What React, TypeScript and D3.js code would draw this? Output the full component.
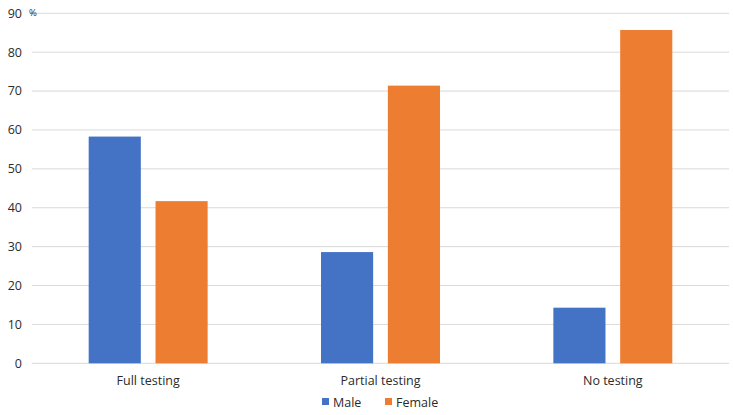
import React from 'react';
import * as d3 from 'd3';

const categories = ['Full testing', 'Partial testing', 'No testing'];
const seriesNames = ['Male', 'Female'];
const maleValues = [58.3, 28.6, 14.3];
const femaleValues = [41.7, 71.4, 85.7];
const yTicks = [0, 10, 20, 30, 40, 50, 60, 70, 80, 90];

const colors: Record<string, string> = { Male: '#4472C4', Female: '#ED7D31' };
const font = "'Open Sans', 'Liberation Sans', sans-serif";
const textColor = '#2b2b2b';

const W = 733;
const H = 415;
const left = 32;
const right = 729;
const top = 13.3;
const bottom = 363.3;

export default function App() {
  const rows = categories.map((c, i) => ({ cat: c, Male: maleValues[i], Female: femaleValues[i] }));

  const x0 = d3.scaleBand<string>().domain(categories).range([left, right]).paddingInner(0.488).paddingOuter(0.244);
  const x1 = d3.scaleBand<string>().domain(seriesNames).range([0, x0.bandwidth()]).paddingInner(0.22);
  const y = d3.scaleLinear().domain([0, 90]).range([bottom, top]);

  return (
    <svg width={W} height={H} style={{ position: 'absolute', left: 0, top: 0, background: '#fff' }}>
      {yTicks.map(t => (
        <g key={t}>
          <line x1={left} x2={right} y1={y(t)} y2={y(t)} stroke="#d9d9d9" strokeWidth={1} />
          <text x={22} y={y(t)} dy="0.35em" textAnchor="end" fontFamily={font} fontSize={12.5} fill={textColor}>
            {t}
          </text>
        </g>
      ))}
      <text x={29} y={y(90)} dy="0.3em" fontFamily={font} fontSize={9.5} fill={textColor}>%</text>

      {rows.map(r => (
        <g key={r.cat} transform={`translate(${x0(r.cat)},0)`}>
          {seriesNames.map(s => {
            const v = (r as any)[s] as number;
            return (
              <rect key={s} x={x1(s)} y={y(v)} width={x1.bandwidth()} height={y(0) - y(v)} fill={colors[s]} />
            );
          })}
          <text x={x0.bandwidth() / 2} y={385} textAnchor="middle" fontFamily={font} fontSize={12.5} fill={textColor}>
            {r.cat}
          </text>
        </g>
      ))}

      <g transform="translate(322,407)">
        {seriesNames.map((s, i) => {
          const off = i === 0 ? 0 : 63;
          return (
            <g key={s} transform={`translate(${off},0)`}>
              <rect x={0} y={-9} width={7} height={7} fill={colors[s]} />
              <text x={11} y={0} fontFamily={font} fontSize={12.5} fill={textColor}>{s}</text>
            </g>
          );
        })}
      </g>
    </svg>
  );
}
